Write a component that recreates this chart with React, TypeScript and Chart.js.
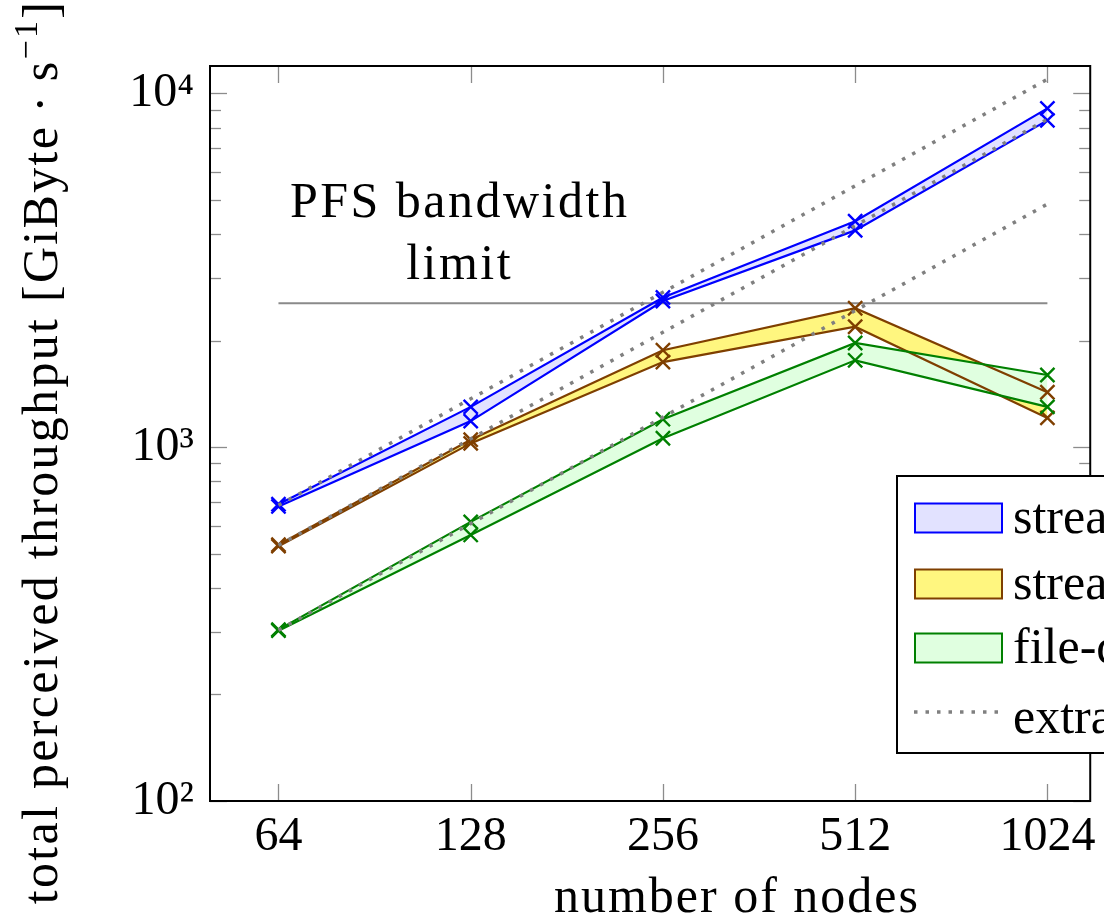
import React, { useEffect, useRef } from 'react';
import { Chart, registerables } from 'chart.js';

Chart.register(...registerables);

// ---------- data ----------
const nodes = [64, 128, 256, 512, 1024];
const xTickLabels = ['64', '128', '256', '512', '1024'];
const yMajorTicks = [100, 1000, 10000];
const yTickLabels = ['10²', '10³', '10⁴'];
const yMinorMantissas = [2, 3, 4, 5, 6, 7, 8, 9];

const streamAHigh = [690, 1300, 2650, 4350, 9070];
const streamALow = [680, 1185, 2590, 4100, 8390];
const streamBHigh = [530, 1050, 1880, 2470, 1430];
const streamBLow = [525, 1025, 1740, 2190, 1210];
const fileHigh = [305, 615, 1200, 1970, 1600];
const fileLow = [303, 565, 1060, 1760, 1300];

const extrapA = [685, 1370, 2740, 5480, 10960];
const extrapB = [528, 1056, 2112, 4224, 8448];
const extrapC = [304, 608, 1216, 2432, 4864];

const pfsLimit = [2550, 2550, 2550, 2550, 2550];

const legendLabels = ['streaming (direct)', 'streaming (staged)', 'file-copy', 'extrapolation'];
const pfsText = ['PFS bandwidth', 'limit'];
const xTitle = 'number of nodes';
const yTitleMain = 'total perceived throughput [GiByte\u2009·\u2009s';
const yTitleSup = '−1';
const yTitleEnd = ']';

// ---------- style ----------
const FONT = '"Liberation Serif", "DejaVu Serif", serif';
const BLUE = '#0000ff';
const BLUE_FILL = '#e2e2ff';
const BROWN = '#7f3f00';
const BROWN_FILL = '#fff67f';
const GREEN = '#008000';
const GREEN_FILL = '#e0ffe0';
const GREY = '#808080';

const pts = (vals: number[]) => nodes.map((n, i) => ({ x: n, y: vals[i] }));

const seriesLine = (label: string, vals: number[], color: string, fillColor: string | null, order: number) => ({
  label,
  data: pts(vals),
  borderColor: color,
  borderWidth: 2.2,
  pointStyle: 'crossRot',
  pointRadius: 10,
  pointBorderWidth: 2.4,
  pointBorderColor: color,
  pointBackgroundColor: 'rgba(0,0,0,0)',
  fill: fillColor ? '+1' : false,
  backgroundColor: fillColor || 'rgba(0,0,0,0)',
  tension: 0,
  order,
});

const extrapLine = (label: string, vals: number[]) => ({
  label,
  data: pts(vals),
  borderColor: GREY,
  borderWidth: 3.5,
  borderDash: [3.5, 8],
  pointRadius: 0,
  fill: false,
  tension: 0,
  order: 0,
});

const decorPlugin = {
  id: 'decor',
  afterDraw(chart: any) {
    const { ctx, chartArea: a, scales } = chart;
    const xs = scales.x;
    const ys = scales.y;
    ctx.save();

    // inward tick marks
    ctx.strokeStyle = '#8c8c8c';
    ctx.lineWidth = 1.3;
    const seg = (x1: number, y1: number, x2: number, y2: number) => {
      ctx.beginPath();
      ctx.moveTo(x1, y1);
      ctx.lineTo(x2, y2);
      ctx.stroke();
    };
    for (const t of ys.ticks) {
      const py = Math.round(ys.getPixelForValue(t.value)) + 0.5;
      const lg = Math.log10(t.value);
      const major = Math.abs(lg - Math.round(lg)) < 1e-9;
      const len = major ? 17 : 11;
      seg(a.left, py, a.left + len, py);
      seg(a.right - len, py, a.right, py);
    }
    for (const t of xs.ticks) {
      const px = Math.round(xs.getPixelForValue(t.value)) + 0.5;
      seg(px, a.top, px, a.top + 17);
      seg(px, a.bottom - 17, px, a.bottom);
    }

    // frame
    ctx.strokeStyle = '#000';
    ctx.lineWidth = 2;
    ctx.strokeRect(a.left, a.top, a.right - a.left, a.bottom - a.top);

    // PFS annotation
    ctx.fillStyle = '#000';
    ctx.font = `50px ${FONT}`;
    (ctx as any).letterSpacing = '2.5px';
    ctx.textAlign = 'center';
    ctx.textBaseline = 'alphabetic';
    const ax = xs.getPixelForValue(123);
    ctx.fillText(pfsText[0], ax, ys.getPixelForValue(4993) + 17);
    ctx.fillText(pfsText[1], ax, ys.getPixelForValue(3334) + 17);

    // x title
    (ctx as any).letterSpacing = '2px';
    ctx.fillText(xTitle, 737, 912);

    // y title (rotated, with superscript)
    ctx.save();
    ctx.translate(57, 452);
    ctx.rotate(-Math.PI / 2);
    ctx.textAlign = 'left';
    (ctx as any).letterSpacing = '2.3px';
    ctx.font = `50px ${FONT}`;
    const w1 = ctx.measureText(yTitleMain).width;
    const w3 = ctx.measureText(yTitleEnd).width;
    ctx.font = `34px ${FONT}`;
    const w2 = ctx.measureText(yTitleSup).width;
    const total = w1 + w2 + w3;
    let cx = -total / 2;
    ctx.font = `50px ${FONT}`;
    ctx.fillText(yTitleMain, cx, 0);
    cx += w1;
    ctx.font = `34px ${FONT}`;
    ctx.fillText(yTitleSup, cx, -20);
    cx += w2;
    ctx.font = `50px ${FONT}`;
    ctx.fillText(yTitleEnd, cx, 0);
    ctx.restore();

    // legend
    (ctx as any).letterSpacing = '0px';
    ctx.fillStyle = '#fff';
    ctx.fillRect(897, 476, 400, 277);
    ctx.strokeStyle = '#000';
    ctx.lineWidth = 2;
    ctx.strokeRect(897, 476, 400, 277);
    const ds = chart.data.datasets;
    const entries = [ds[0], ds[2], ds[4], ds[6]];
    const baselines = [533, 599, 663, 733];
    const swatchMid = [518, 584, 648, 712];
    entries.forEach((d: any, i: number) => {
      if (i < 3) {
        ctx.fillStyle = d.backgroundColor;
        ctx.fillRect(915, swatchMid[i] - 14.5, 87, 29);
        ctx.strokeStyle = d.borderColor;
        ctx.lineWidth = 2;
        ctx.strokeRect(915, swatchMid[i] - 14.5, 87, 29);
      } else {
        ctx.strokeStyle = d.borderColor;
        ctx.lineWidth = 3.5;
        ctx.setLineDash([3.5, 8]);
        ctx.beginPath();
        ctx.moveTo(914, swatchMid[i]);
        ctx.lineTo(1002, swatchMid[i]);
        ctx.stroke();
        ctx.setLineDash([]);
      }
      ctx.fillStyle = '#000';
      ctx.font = `50px ${FONT}`;
      ctx.textAlign = 'left';
      ctx.textBaseline = 'alphabetic';
      ctx.fillText(legendLabels[i], 1013, baselines[i]);
    });

    ctx.restore();
  },
};

export default function App() {
  const ref = useRef<HTMLCanvasElement>(null);

  useEffect(() => {
    const canvas = ref.current;
    if (!canvas) return;
    const chart = new Chart(canvas, {
      type: 'line',
      data: {
        datasets: [
          seriesLine(legendLabels[0], streamAHigh, BLUE, BLUE_FILL, 3),
          seriesLine(legendLabels[0] + ' (low)', streamALow, BLUE, null, 3),
          seriesLine(legendLabels[1], streamBHigh, BROWN, BROWN_FILL, 2),
          seriesLine(legendLabels[1] + ' (low)', streamBLow, BROWN, null, 2),
          seriesLine(legendLabels[2], fileHigh, GREEN, GREEN_FILL, 1),
          seriesLine(legendLabels[2] + ' (low)', fileLow, GREEN, null, 1),
          extrapLine(legendLabels[3], extrapA),
          extrapLine(legendLabels[3] + ' B', extrapB),
          extrapLine(legendLabels[3] + ' C', extrapC),
          {
            label: 'PFS bandwidth limit',
            data: pts(pfsLimit),
            borderColor: '#8a8a8a',
            borderWidth: 2,
            pointRadius: 0,
            fill: false,
            order: 5,
          },
        ] as any,
      },
      options: {
        animation: false,
        responsive: false,
        devicePixelRatio: 1,
        events: [],
        layout: { padding: { top: 66, right: 11, left: 0, bottom: 0 } },
        plugins: {
          legend: { display: false },
          tooltip: { enabled: false },
          filler: { drawTime: 'beforeDatasetsDraw' },
        },
        scales: {
          x: {
            type: 'logarithmic',
            min: 50,
            max: 1195,
            grid: { display: false, drawTicks: false },
            border: { display: false },
            afterBuildTicks: (s: any) => {
              s.ticks = nodes.map((v) => ({ value: v }));
            },
            afterFit: (s: any) => {
              s.height = 119;
            },
            ticks: {
              autoSkip: false,
              maxRotation: 0,
              padding: 8,
              color: '#000',
              font: { family: FONT, size: 48 },
              callback: (v: any) => {
                const i = nodes.indexOf(Number(v));
                return i >= 0 ? xTickLabels[i] : '';
              },
            },
          },
          y: {
            type: 'logarithmic',
            min: 100,
            max: 11950,
            grid: { display: false, drawTicks: false },
            border: { display: false },
            afterBuildTicks: (s: any) => {
              const t: { value: number }[] = [];
              for (let k = 0; k < yMajorTicks.length; k++) {
                t.push({ value: yMajorTicks[k] });
                if (k < yMajorTicks.length - 1) {
                  for (const m of yMinorMantissas) t.push({ value: m * yMajorTicks[k] });
                }
              }
              s.ticks = t;
            },
            afterFit: (s: any) => {
              s.width = 210;
            },
            ticks: {
              autoSkip: false,
              padding: 16,
              color: '#000',
              font: { family: FONT, size: 48 },
              callback: (v: any) => {
                const i = yMajorTicks.indexOf(Number(v));
                return i >= 0 ? yTickLabels[i] : '';
              },
            },
          },
        },
      } as any,
      plugins: [decorPlugin],
    });
    return () => chart.destroy();
  }, []);

  return (
    <div
      style={{
        position: 'fixed',
        left: 0,
        top: 0,
        width: 1104,
        height: 920,
        overflow: 'hidden',
        background: '#fff',
      }}
    >
      <canvas ref={ref} width={1104} height={920} style={{ display: 'block', width: 1104, height: 920 }} />
    </div>
  );
}
